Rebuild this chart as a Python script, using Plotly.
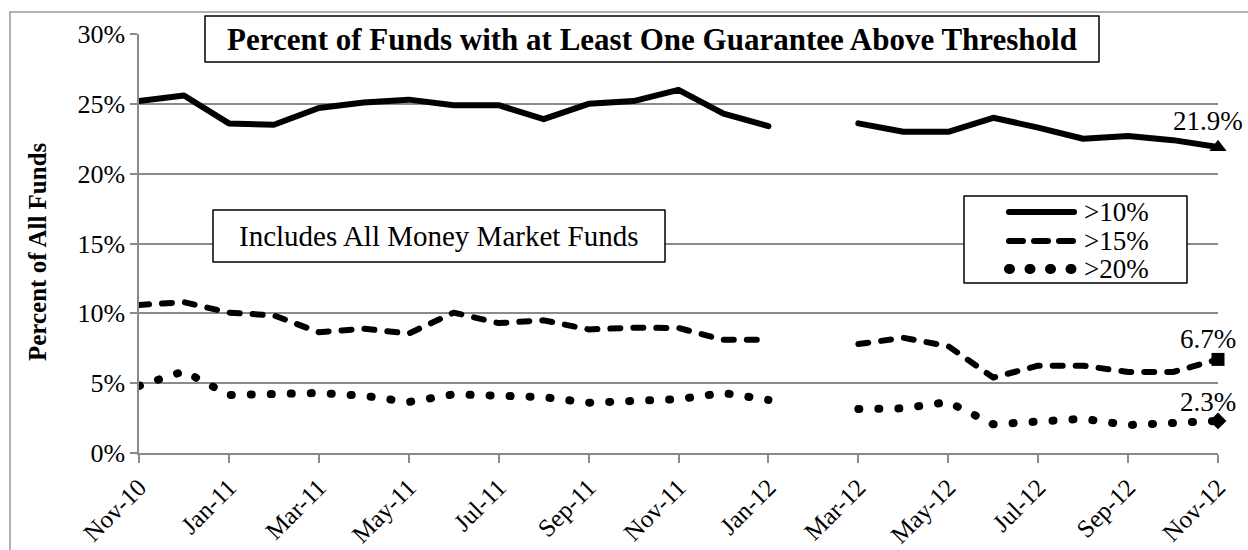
import plotly.graph_objects as go

# ---------------- data ----------------
months = ["Nov-10", "Dec-10", "Jan-11", "Feb-11", "Mar-11", "Apr-11", "May-11",
          "Jun-11", "Jul-11", "Aug-11", "Sep-11", "Oct-11", "Nov-11", "Dec-11",
          "Jan-12", "Feb-12", "Mar-12", "Apr-12", "May-12", "Jun-12", "Jul-12",
          "Aug-12", "Sep-12", "Oct-12", "Nov-12"]
tick_labels = months[::2]

gt10 = [25.2, 25.6, 23.6, 23.5, 24.7, 25.1, 25.3, 24.9, 24.9, 23.9, 25.0, 25.2,
        26.0, 24.3, 23.4, None, 23.6, 23.0, 23.0, 24.0, 23.3, 22.5, 22.7, 22.4, 21.9]
gt15 = [10.6, 10.8, 10.05, 9.85, 8.65, 8.9, 8.55, 10.05, 9.3, 9.5, 8.85, 8.97,
        8.95, 8.1, 8.1, None, 7.8, 8.25, 7.65, 5.4, 6.25, 6.25, 5.8, 5.8, 6.7]
gt20 = [4.8, 5.85, 4.15, 4.2, 4.3, 4.1, 3.65, 4.2, 4.1, 4.0, 3.6, 3.7,
        3.85, 4.3, 3.8, None, 3.15, 3.2, 3.65, 2.05, 2.25, 2.45, 2.0, 2.2, 2.3]

series_names = [">10%", ">15%", ">20%"]
title_text = "Percent of Funds with at Least One Guarantee Above Threshold"
note_text = "Includes All Money Market Funds"
y_title = "Percent of All Funds"

FONT = "Liberation Serif, Times New Roman, serif"
GRID = "#8a8a8a"

# plot-area pixel geometry helpers (for boxes / labels only)
L, R, T, B = 139, 1218, 34, 453
def px(x):
    return (x - L) / (R - L)
def py(y):
    return (B - y) / (B - T)

fig = go.Figure()

fig.add_trace(go.Scatter(x=months, y=gt10, name=series_names[0], mode="lines",
                         line=dict(color="black", width=6), showlegend=False))
fig.add_trace(go.Scatter(x=months, y=gt15, name=series_names[1], mode="lines",
                         line=dict(color="black", width=6, dash="10px,13px"), showlegend=False))
fig.add_trace(go.Scatter(x=months, y=gt20, name=series_names[2], mode="lines",
                         line=dict(color="black", width=8, dash="1px,19px"), showlegend=False))

# end markers
for vals, sym, size in [(gt10, "triangle-up", 15), (gt15, "square", 13), (gt20, "diamond", 13)]:
    fig.add_trace(go.Scatter(x=[months[-1]], y=[vals[-1]], mode="markers",
                             marker=dict(symbol=sym, size=size, color="black"),
                             cliponaxis=False, showlegend=False, hoverinfo="skip"))

annotations = []
# end value labels
for vals, ys in [(gt10, 26), (gt15, 20), (gt20, 19)]:
    annotations.append(dict(x=months[-1], y=vals[-1], xref="x", yref="y",
                            text=f"{vals[-1]:.1f}%", showarrow=False,
                            xshift=-10, yshift=ys,
                            font=dict(family=FONT, size=27, color="black")))

# title
annotations.append(dict(x=px(652), y=py(39), xref="paper", yref="paper",
                        text=f"<b>{title_text}</b>", showarrow=False,
                        xanchor="center", yanchor="middle",
                        font=dict(family=FONT, size=31, color="black")))
# note
annotations.append(dict(x=px(439), y=py(236), xref="paper", yref="paper",
                        text=note_text, showarrow=False,
                        xanchor="center", yanchor="middle",
                        font=dict(family=FONT, size=29, color="black")))
# y title
annotations.append(dict(x=px(38), y=py(252), xref="paper", yref="paper",
                        text=f"<b>{y_title}</b>", showarrow=False, textangle=-90,
                        xanchor="center", yanchor="middle",
                        font=dict(family=FONT, size=25, color="black")))

shapes = []
# outer border (left + top)
shapes.append(dict(type="line", xref="paper", yref="paper",
                   x0=px(10), x1=px(10), y0=py(12), y1=py(600),
                   line=dict(color="#999999", width=1.5)))
shapes.append(dict(type="line", xref="paper", yref="paper",
                   x0=px(10), x1=px(1300), y0=py(12), y1=py(12),
                   line=dict(color="#999999", width=1.5)))
# boxes
for (x0, y0, x1, y1) in [(205, 16, 1099, 62), (213, 210, 665, 262), (964, 196, 1187, 283)]:
    shapes.append(dict(type="rect", xref="paper", yref="paper", layer="above",
                       x0=px(x0), x1=px(x1), y0=py(y0), y1=py(y1),
                       fillcolor="white", line=dict(color="black", width=1.5)))

# custom legend
leg_rows = [212, 241, 269]
leg_styles = [dict(width=6, dash="solid"), dict(width=6, dash="14px,11px"),
              dict(width=10, dash="1px,19.5px")]
for name, yy, st in zip(series_names, leg_rows, leg_styles):
    shapes.append(dict(type="line", xref="paper", yref="paper", layer="above",
                       x0=px(1009), x1=px(1074), y0=py(yy), y1=py(yy),
                       line=dict(color="black", width=st["width"], dash=st["dash"])))
    annotations.append(dict(x=px(1082), y=py(yy), xref="paper", yref="paper",
                            text=name, showarrow=False, xanchor="left", yanchor="middle",
                            font=dict(family=FONT, size=27, color="black")))

fig.update_layout(
    width=1248, height=550,
    margin=dict(l=L, r=1248 - R, t=T, b=550 - B, autoexpand=False),
    paper_bgcolor="white", plot_bgcolor="white",
    font=dict(family=FONT, size=26, color="black"),
    showlegend=False,
    annotations=annotations,
    shapes=shapes,
    xaxis=dict(type="category", categoryorder="array", categoryarray=months,
               range=[0, len(months) - 1], tickmode="array", tickvals=tick_labels,
               ticktext=tick_labels, tickangle=-45, showgrid=False,
               showline=True, linecolor=GRID, linewidth=1.5,
               ticks="outside", ticklen=8, tickcolor=GRID, tickwidth=1.5,
               tickfont=dict(family=FONT, size=25, color="black"), automargin=False),
    yaxis=dict(range=[0, 30], dtick=5, ticksuffix="%", showgrid=True,
               gridcolor=GRID, gridwidth=1.5, zeroline=False,
               showline=True, linecolor=GRID, linewidth=1.5,
               ticks="outside", ticklen=7, tickcolor=GRID, tickwidth=1.5,
               tickfont=dict(family=FONT, size=26, color="black"), automargin=False),
)

post = """
var s = document.createElement('style');
s.textContent = 'html, body { margin: 0 !important; padding: 0 !important; overflow: hidden; } ' +
                'path.js-line, .shapelayer path { stroke-linecap: round; stroke-linejoin: round; }';
document.head.appendChild(s);
"""
fig.write_html("out.html", post_script=post, config={"displayModeBar": False})
